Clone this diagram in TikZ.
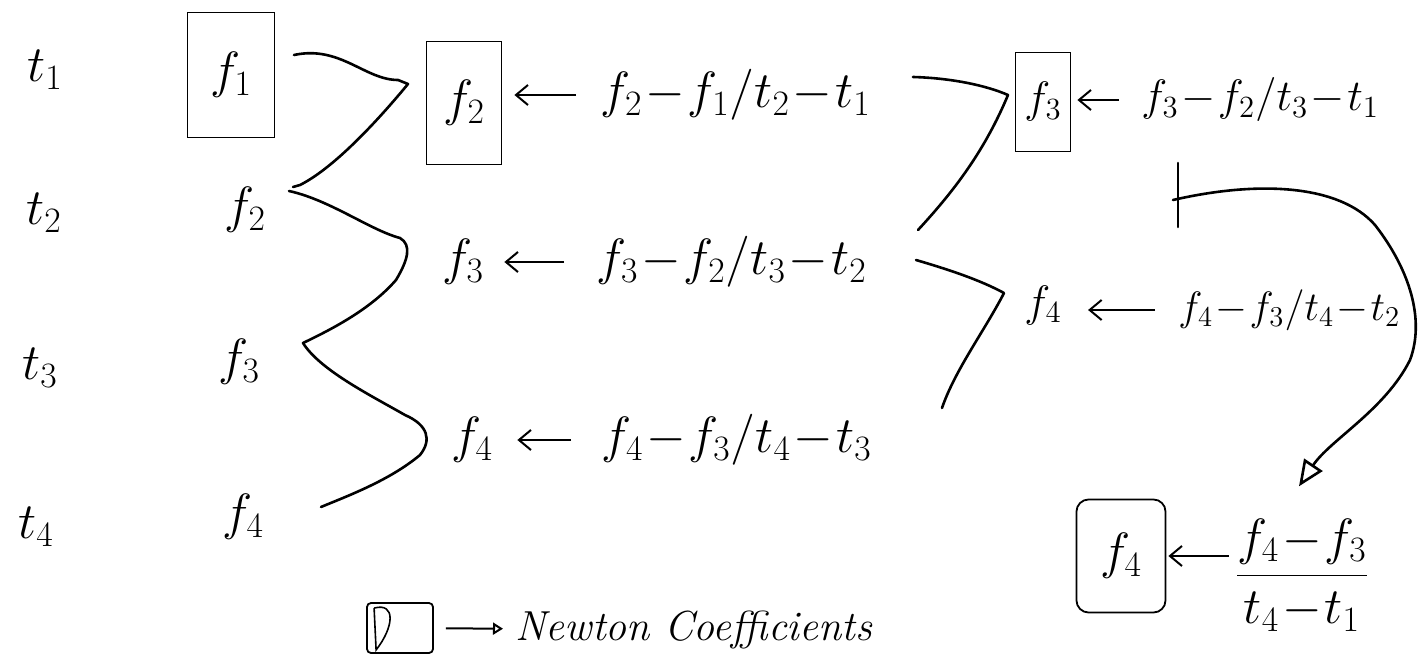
\RequirePackage{fix-cm}
\documentclass[tikz,border=0pt]{standalone}
\usetikzlibrary{arrows.meta}
\newcommand{\tightmu}{\medmuskip=1mu\relax}
\begin{document}
\begin{tikzpicture}[x=0.5pt,y=-0.5pt,
  lab/.style={inner sep=0pt, font=\fontsize{25.5}{30}\selectfont\tightmu},
  labs/.style={inner sep=0pt, font=\fontsize{22}{26}\selectfont\tightmu},
  labt/.style={inner sep=0pt, font=\fontsize{20.5}{24}\selectfont\tightmu},
  cbox/.style={draw, line width=0.9pt, inner sep=0pt},
  arr/.style={line width=1pt, -{Straight Barb[length=6pt,width=10pt]}},
  br/.style={line width=1.3pt, line cap=round, line join=round},
]
\useasboundingbox (0,0) rectangle (1426,658);
% column t
\node[lab] (t1) at (45,70) {$t_1$};
\node[lab] (t2) at (44,213) {$t_2$};
\node[lab] (t3) at (40,368) {$t_3$};
\node[lab] (t4) at (36,527) {$t_4$};
% column f
\node[lab,cbox,minimum width=43.5pt,minimum height=62.5pt] (c0) at (231,75) {$f_1$};
\node[lab] (f2) at (245,210) {$f_2$};
\node[lab] (f3) at (239,362) {$f_3$};
\node[lab] (f4) at (243,517) {$f_4$};
% first differences
\node[lab,cbox,minimum width=37.5pt,minimum height=61.5pt] (c1) at (464,103) {$f_2$};
\node[lab,anchor=west] (d1) at (600,95) {$f_2-f_1/t_2-t_1$};
\node[lab] (m2) at (463,262) {$f_3$};
\node[lab,anchor=west] (d2) at (596,262) {$f_3-f_2/t_3-t_2$};
\node[lab] (m3) at (472,440) {$f_4$};
\node[lab,anchor=west] (d3) at (601,440) {$f_4-f_3/t_4-t_3$};
% second differences
\node[labs,cbox,minimum width=27.5pt,minimum height=49.5pt] (c2) at (1043,102) {$f_3$};
\node[labs,anchor=west] (d4) at (1141,100) {$f_3-f_2/t_3-t_1$};
\node[labs] (m5) at (1043,305) {$f_4$};
\node[labt,anchor=west] (d5) at (1178,310) {$f_4-f_3/t_4-t_2$};
% third difference
\node[lab,cbox,rounded corners=6pt,minimum width=44.5pt,minimum height=56.5pt] (c3) at (1121,556) {$f_4$};
\node[lab] (d6) at (1302,575) {$\displaystyle\frac{f_4-f_3}{t_4-t_1}$};
% legend
\node[cbox,rounded corners=2pt,minimum width=33pt,minimum height=25pt] (lg) at (400,628) {};
\node[font=\itshape\fontsize{21}{24}\selectfont, anchor=west, inner sep=0pt] (lt) at (515,630) {Newton Coefficients};
\draw[line width=0.8pt] ([shift={(8,6)}]lg.north west) .. controls ([shift={(30,0)}]lg.north west) and ([shift={(28,25)}]lg.north west) .. ([shift={(10,-4)}]lg.south west) -- ([shift={(8,6)}]lg.north west);
\draw[line width=1pt,-{Triangle[open,length=5pt,width=6pt]}, shorten <=6pt, shorten >=6pt] (lg) -- (lt);
% arrows
\draw[arr, shorten <=12pt, shorten >=6pt] (d1.west) -- (c1.east |- d1.west);
\draw[arr, shorten <=16pt, shorten >=10pt] (d2.west) -- (m2.east |- d2.west);
\draw[arr, shorten <=15pt, shorten >=12pt] (d3.west) -- (m3.east |- d3.west);
\draw[arr, shorten <=11pt, shorten >=3pt] (d4.west) -- (c2.east |- d4.west);
\draw[arr, shorten <=11.5pt, shorten >=13pt] (d5.west) -- (m5.east |- d5.west);
\draw[arr, shorten <=3pt, shorten >=1pt] (d6.west |- c3.east) -- (c3.east);
% brackets
\coordinate (b1a) at (294,55);
\coordinate (b1b) at (293,187);
\draw[br] (b1a) .. controls (340,45) and (365,80) .. (398,80) -- (408,84) .. controls (370,130) and (330,170) .. (300,185) -- (b1b);
\coordinate (b2a) at (289,191);
\coordinate (b2b) at (321,507);
\draw[br] (b2a) .. controls (330,200) and (370,230) .. (400,238) .. controls (412,245) and (408,260) .. (396,280) .. controls (370,310) and (330,330) .. (303,343) .. controls (320,370) and (370,395) .. (405,415) .. controls (428,425) and (432,440) .. (420,455) .. controls (390,480) and (350,495) .. (b2b);
\coordinate (b3a) at (913,77);
\coordinate (b3b) at (918,230);
\draw[br] (b3a) .. controls (950,78) and (985,85) .. (1008,95) .. controls (985,150) and (955,190) .. (b3b);
\coordinate (b4a) at (916,260);
\coordinate (b4b) at (942,408);
\draw[br] (b4a) .. controls (950,270) and (980,280) .. (1004,293) .. controls (985,330) and (955,370) .. (b4b);
% big curved arrow
\coordinate (tk) at (1178,198);
\draw[br] ([shift={(0,-35)}]tk) -- ([shift={(0,29)}]tk);
\draw[br,-{Triangle[open,length=13pt,width=11pt]}] ([shift={(-5,2)}]tk) .. controls (1260,180) and (1340,185) .. (1375,225) .. controls (1410,270) and (1425,320) .. (1410,360) .. controls (1385,410) and (1330,440) .. ([shift={(-3,-32)}]d6.north);
\end{tikzpicture}
\end{document}
